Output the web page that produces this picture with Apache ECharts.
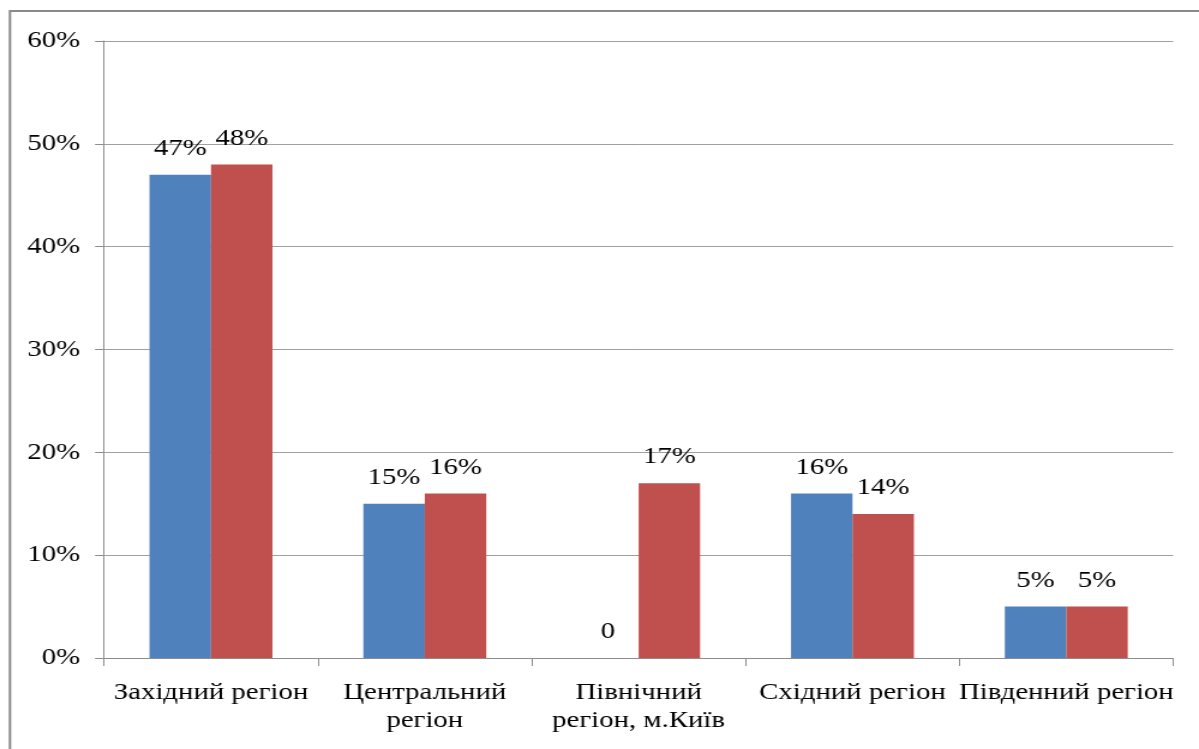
<!DOCTYPE html>
<html>
<head>
<meta charset="utf-8">
<script src="https://cdn.jsdelivr.net/npm/echarts@6/dist/echarts.min.js"></script>
<style>
  html, body { margin: 0; padding: 0; background: #fff; overflow: hidden; }
  #wrap { width: 1199px; height: 749px; overflow: hidden; }
  /* the chart is laid out narrower and widened horizontally */
  #chart { width: 999px; height: 749px; transform: scaleX(1.2002); transform-origin: 0 0; }
</style>
</head>
<body>
<div id="wrap"><div id="chart"></div></div>
<script>
const categories = ['Західний регіон', 'Центральний\nрегіон', 'Північний\nрегіон, м.Київ', 'Східний регіон', 'Південний регіон'];
const seriesA = [47, 15, 0, 16, 5];
const seriesB = [48, 16, 17, 14, 5];
const yTicks = { min: 0, max: 60, interval: 10 };

const FONT = 'Liberation Serif';
const chart = echarts.init(document.getElementById('chart'), null, { renderer: 'canvas' });

const valueLabel = {
  show: true,
  position: 'top',
  distance: 14,
  fontFamily: FONT,
  fontSize: 24,
  color: '#000',
  formatter: p => (p.value === 0 ? '0' : p.value + '%')
};

chart.setOption({
  animation: false,
  backgroundColor: '#fff',
  graphic: [{
    type: 'rect',
    shape: { x: 8.3, y: 11, width: 1200, height: 800 },
    style: { fill: 'none', stroke: '#8a8a8a', lineWidth: 2 },
    silent: true
  }],
  grid: { left: 86.7, right: 21.5, top: 41, bottom: 91 },
  xAxis: {
    type: 'category',
    data: categories,
    boundaryGap: true,
    axisLine: { lineStyle: { color: '#8c8c8c', width: 1 } },
    axisTick: { show: true, length: 8, alignWithLabel: false, lineStyle: { color: '#8c8c8c' } },
    axisLabel: { fontFamily: FONT, fontSize: 24, color: '#000', margin: 21, lineHeight: 28, interval: 0 }
  },
  yAxis: {
    type: 'value',
    min: yTicks.min,
    max: yTicks.max,
    interval: yTicks.interval,
    axisLine: { show: true, lineStyle: { color: '#8c8c8c', width: 1 } },
    axisTick: { show: true, length: 7.5, lineStyle: { color: '#8c8c8c' } },
    splitLine: { lineStyle: { color: '#a0a0a0', width: 1 } },
    axisLabel: { fontFamily: FONT, fontSize: 24, color: '#000', margin: 20, formatter: '{value}%' }
  },
  series: [
    { type: 'bar', data: seriesA, barWidth: 51.2, barGap: '0%', itemStyle: { color: '#4F81BD' }, label: valueLabel },
    { type: 'bar', data: seriesB, barWidth: 51.2, barGap: '0%', itemStyle: { color: '#C0504D' }, label: valueLabel }
  ]
});
</script>
</body>
</html>
